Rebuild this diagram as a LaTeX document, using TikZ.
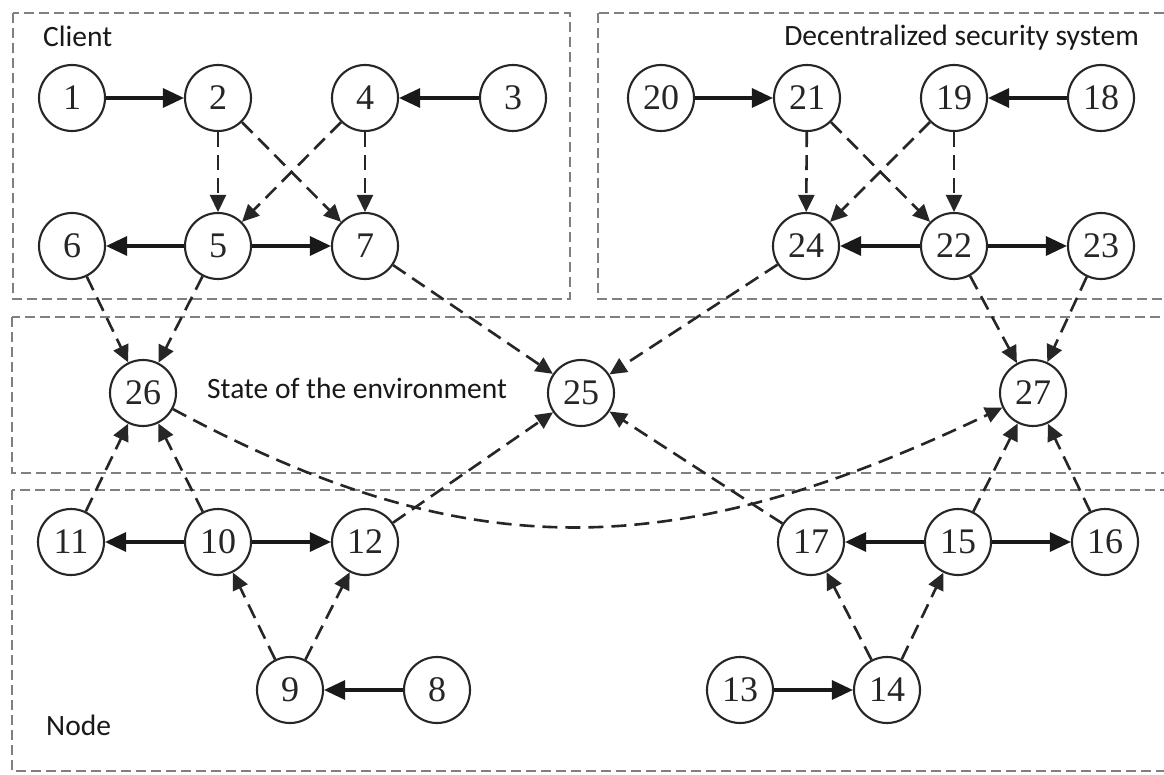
\documentclass[tikz,border=0pt]{standalone}
\usepackage{fontspec}
\setmainfont{Liberation Serif}
\newfontfamily\labfont{Carlito}
\usetikzlibrary{arrows.meta}
\begin{document}
\begin{tikzpicture}[x=1pt,y=-1pt,
  vtx/.style={circle,draw=black!85,line width=2.1pt,minimum size=66pt,inner sep=0pt,text=black!85,font=\fontsize{36}{36}\selectfont},
  solidarr/.style={draw=black!90,line width=3.2pt,-{Triangle[length=21pt,width=19pt]}},
  dasharr/.style={draw=black!85,line width=2.6pt,dash pattern=on 15pt off 8pt,-{Triangle[length=17pt,width=16pt]}},
  region/.style={draw=black!50,line width=2.4pt,dash pattern=on 10pt off 5pt},
  lab/.style={text=black!90,font=\labfont\fontsize{29.5}{29.5}\selectfont,inner sep=0pt}]
\clip (0,0) rectangle (1164,775);
\fill[white] (0,0) rectangle (1164,775);
% regions
\draw[region] (13,13) rectangle (570,299);
\draw[region] (598,13) rectangle (1180,299);
\draw[region] (12,317) rectangle (1180,473);
\draw[region] (12,490) rectangle (1180,771);
% labels
\node[lab,anchor=base west] (lclient) at (43,47) {Client};
\node[lab,anchor=base east] (ldss) at (1139,46) {Decentralized security system};
\node[lab,anchor=base west] (lstate) at (207,398) {State of the environment};
\node[lab,anchor=base west] (lnode) at (46,735) {Node};
% vertices
\node[vtx] (n1) at (72,98) {1};
\node[vtx] (n2) at (218,98) {2};
\node[vtx] (n4) at (365,98) {4};
\node[vtx] (n3) at (513,98) {3};
\node[vtx] (n6) at (72,246) {6};
\node[vtx] (n5) at (218,246) {5};
\node[vtx] (n7) at (365,246) {7};
\node[vtx] (n20) at (661,98) {20};
\node[vtx] (n21) at (807,98) {21};
\node[vtx] (n19) at (954,98) {19};
\node[vtx] (n18) at (1101,98) {18};
\node[vtx] (n24) at (806,246) {24};
\node[vtx] (n22) at (954,246) {22};
\node[vtx] (n23) at (1101,246) {23};
\node[vtx] (n26) at (143,393) {26};
\node[vtx] (n25) at (581,393) {25};
\node[vtx] (n27) at (1033,393) {27};
\node[vtx] (n11) at (71,542) {11};
\node[vtx] (n10) at (218,542) {10};
\node[vtx] (n12) at (365,542) {12};
\node[vtx] (n9) at (290,690) {9};
\node[vtx] (n8) at (437,690) {8};
\node[vtx] (n17) at (811,542) {17};
\node[vtx] (n15) at (958,542) {15};
\node[vtx] (n16) at (1105,542) {16};
\node[vtx] (n13) at (740,690) {13};
\node[vtx] (n14) at (887,690) {14};
% solid arrows
\draw[solidarr] (n1) -- (n2);
\draw[solidarr] (n3) -- (n4);
\draw[solidarr] (n5) -- (n6);
\draw[solidarr] (n5) -- (n7);
\draw[solidarr] (n20) -- (n21);
\draw[solidarr] (n18) -- (n19);
\draw[solidarr] (n22) -- (n24);
\draw[solidarr] (n22) -- (n23);
\draw[solidarr] (n10) -- (n11);
\draw[solidarr] (n10) -- (n12);
\draw[solidarr] (n8) -- (n9);
\draw[solidarr] (n15) -- (n17);
\draw[solidarr] (n15) -- (n16);
\draw[solidarr] (n13) -- (n14);
% dashed arrows
\draw[dasharr] (n2) -- (n5);
\draw[dasharr] (n2) -- (n7);
\draw[dasharr] (n4) -- (n5);
\draw[dasharr] (n4) -- (n7);
\draw[dasharr] (n21) -- (n24);
\draw[dasharr] (n21) -- (n22);
\draw[dasharr] (n19) -- (n24);
\draw[dasharr] (n19) -- (n22);
\draw[dasharr] (n6) -- (n26);
\draw[dasharr] (n5) -- (n26);
\draw[dasharr] (n7) -- (n25);
\draw[dasharr] (n24) -- (n25);
\draw[dasharr] (n22) -- (n27);
\draw[dasharr] (n23) -- (n27);
\draw[dasharr] (n11) -- (n26);
\draw[dasharr] (n10) -- (n26);
\draw[dasharr] (n12) -- (n25);
\draw[dasharr] (n17) -- (n25);
\draw[dasharr] (n15) -- (n27);
\draw[dasharr] (n16) -- (n27);
\draw[dasharr] (n9) -- (n10);
\draw[dasharr] (n9) -- (n12);
\draw[dasharr] (n14) -- (n17);
\draw[dasharr] (n14) -- (n15);
\draw[dasharr] (n26) .. controls (465,566) and (671,566) .. (n27);
\end{tikzpicture}
\end{document}
